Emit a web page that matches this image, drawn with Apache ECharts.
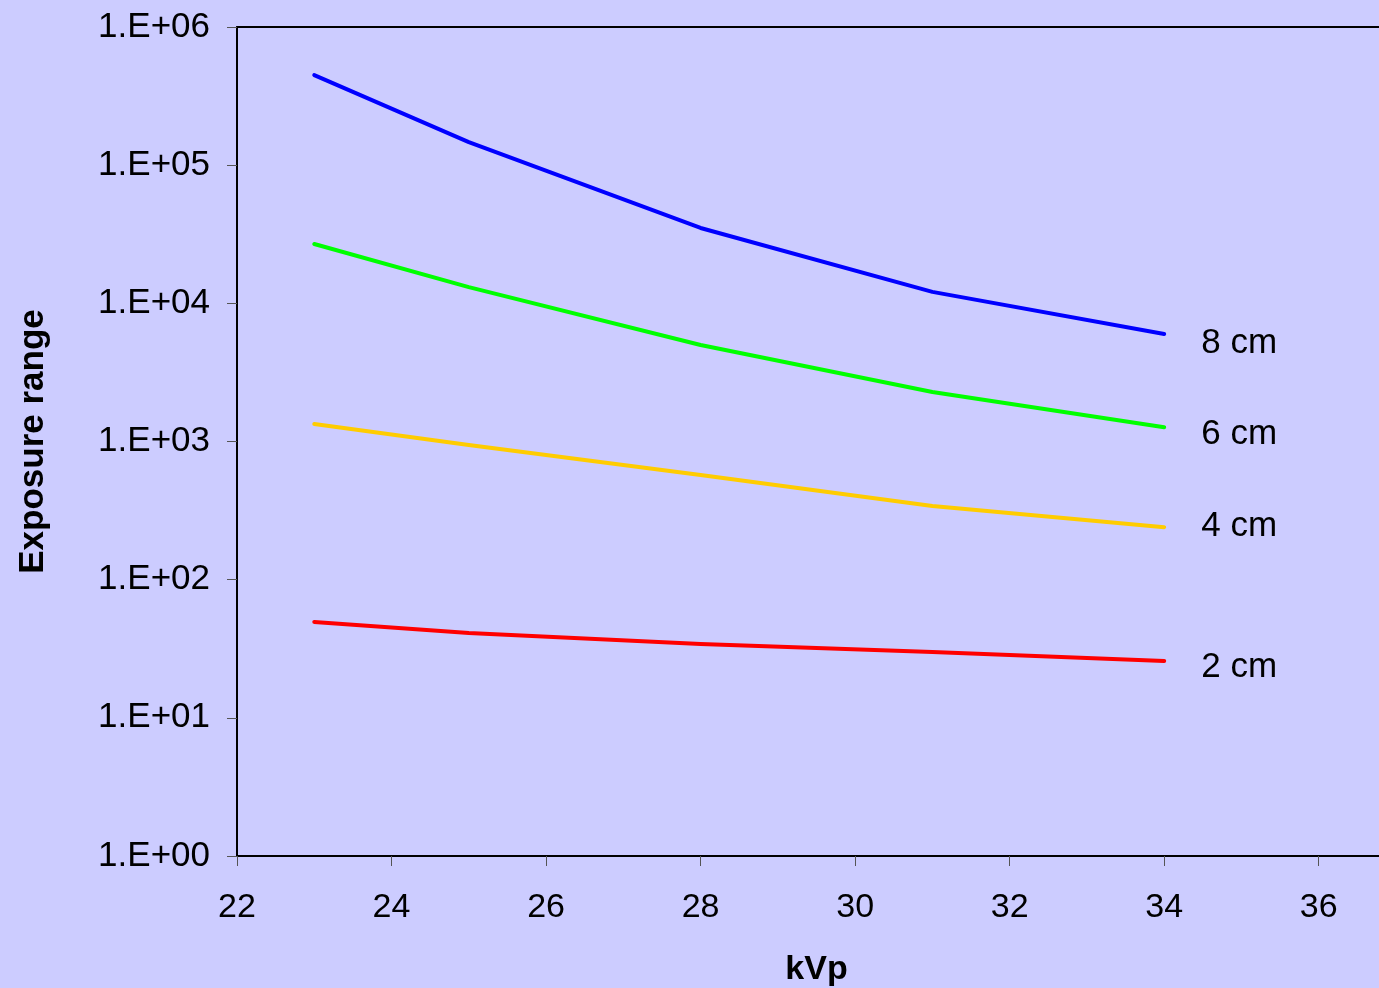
<!DOCTYPE html>
<html>
<head>
<meta charset="utf-8">
<script src="https://cdn.jsdelivr.net/npm/echarts@6/dist/echarts.min.js"></script>
<style>
html,body{margin:0;padding:0;background:#CCCCFF;}
#chart{width:1379px;height:988px;}
</style>
</head>
<body>
<div id="chart"></div>
<script>
const kvp = [23, 25, 28, 31, 34];
const seriesNames = ['8 cm', '6 cm', '4 cm', '2 cm'];
const cm8 = [449000, 147000, 35100, 12100, 6000];
const cm6 = [26900, 13100, 4990, 2280, 1270];
const cm4 = [1340, 943, 572, 341, 240];
const cm2 = [49.4, 41.1, 34.2, 29.9, 25.8];
const yTickLabels = ['1.E+00', '1.E+01', '1.E+02', '1.E+03', '1.E+04', '1.E+05', '1.E+06'];
const xTicks = [22, 24, 26, 28, 30, 32, 34, 36];

const colors = ['#0000FF', '#00FF00', '#FFCC00', '#FF0000'];
const labelOffsets = [[0, 9], [0, 7], [0, -1], [0, 6]];
const values = [cm8, cm6, cm4, cm2];

const FONT = 'Liberation Sans, Arial, sans-serif';

const chart = echarts.init(document.getElementById('chart'));
chart.setOption({
  backgroundColor: '#CCCCFF',
  animation: false,
  grid: {
    left: 237, top: 27, bottom: 132, right: -17,
    outerBoundsMode: 'none', containLabel: false,
    show: false
  },
  xAxis: [{
    type: 'value',
    min: xTicks[0], max: 37, interval: 2,
    name: 'kVp', nameLocation: 'middle', nameGap: 97,
    nameTextStyle: { fontFamily: FONT, fontSize: 34, fontWeight: 'bold', color: '#000' },
    axisLine: { show: true, onZero: false, lineStyle: { color: '#000', width: 2 } },
    axisTick: { show: true, length: 10, inside: false, lineStyle: { color: '#555', width: 1 } },
    axisLabel: { fontFamily: FONT, fontSize: 34, color: '#000', margin: 35, showMaxLabel: false,
      formatter: v => xTicks.includes(v) ? String(v) : '' },
    splitLine: { show: false }
  }, {
    type: 'value', position: 'top',
    min: xTicks[0], max: 37, interval: 2,
    axisLine: { show: true, onZero: false, lineStyle: { color: '#000', width: 2 } },
    axisTick: { show: false }, axisLabel: { show: false }, splitLine: { show: false }
  }],
  yAxis: {
    type: 'log', logBase: 10, min: 1, max: 1e6,
    name: 'Exposure range', nameLocation: 'middle', nameGap: 186, nameRotate: 90,
    nameTextStyle: { fontFamily: FONT, fontSize: 35, fontWeight: 'bold', color: '#000' },
    axisLine: { show: true, lineStyle: { color: '#000', width: 2 } },
    axisTick: { show: true, length: 10, inside: false, lineStyle: { color: '#555', width: 1 } },
    axisLabel: { fontFamily: FONT, fontSize: 35, color: '#000', margin: 27,
      formatter: v => yTickLabels[Math.round(Math.log10(v))] },
    splitLine: { show: false },
    minorTick: { show: false }
  },
  series: seriesNames.map((name, i) => ({
    name: name,
    type: 'line',
    xAxisIndex: 0,
    data: kvp.map((x, j) => [x, values[i][j]]),
    showSymbol: false,
    symbol: 'none',
    lineStyle: { color: colors[i], width: 4, cap: 'round', join: 'round' },
    itemStyle: { color: colors[i] },
    endLabel: {
      show: true, formatter: name, color: '#000', fontFamily: FONT, fontSize: 35,
      distance: 37, offset: labelOffsets[i]
    },
    emphasis: { disabled: true }
  }))
});
</script>
</body>
</html>
